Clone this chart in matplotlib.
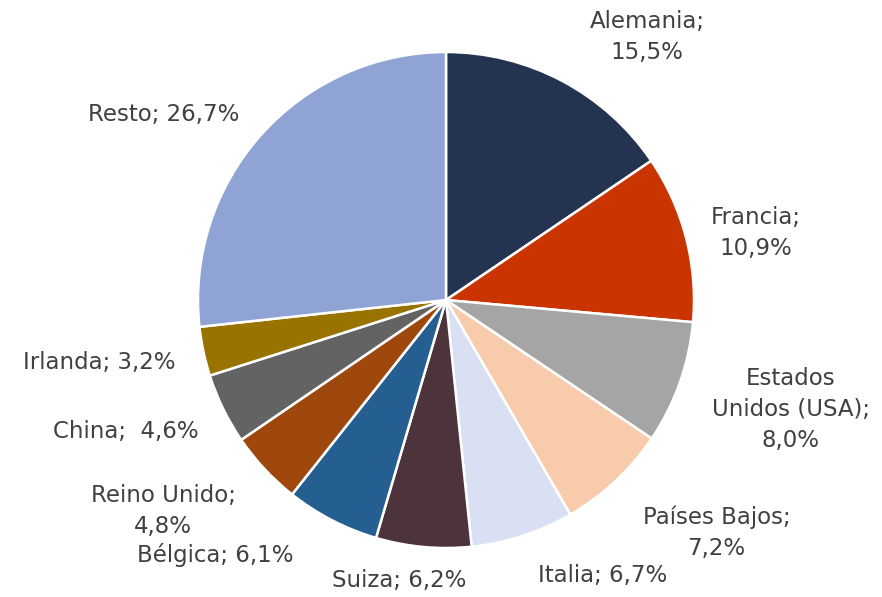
import matplotlib
matplotlib.use("Agg")
import matplotlib.pyplot as plt

countries = ["Alemania", "Francia", "Estados\nUnidos (USA)", "Países Bajos", "Italia", "Suiza",
             "Bélgica", "Reino Unido", "China", "Irlanda", "Resto"]
shares = [15.5, 10.9, 8.0, 7.2, 6.7, 6.2, 6.1, 4.8, 4.6, 3.2, 26.7]
label_texts = ["Alemania;\n15,5%", "Francia;\n10,9%", "Estados\nUnidos (USA);\n8,0%",
               "Países Bajos;\n7,2%", "Italia; 6,7%", "Suiza; 6,2%", "Bélgica; 6,1%",
               "Reino Unido;\n4,8%", "China;  4,6%", "Irlanda; 3,2%", "Resto; 26,7%"]
colors = ["#243350", "#C93400", "#A5A5A5", "#F8CBAD", "#D9E0F3", "#4D333C",
          "#255E91", "#9E480E", "#636363", "#997300", "#8FA4D4"]
# label positions (layout, in pie-radius units)
label_pos = [(0.81, 1.06), (1.25, 0.27), (1.39, -0.44), (1.09, -0.94), (0.63, -1.11),
             (-0.19, -1.13), (-0.93, -1.03), (-1.14, -0.85), (-1.29, -0.53),
             (-1.40, -0.25), (-1.14, 0.75)]

fig = plt.figure(figsize=(8.82, 5.97), dpi=100)
ax = fig.add_axes([0, 0, 1, 1])
ax.pie(shares, colors=colors, startangle=90, counterclock=False, radius=1.0,
       wedgeprops=dict(edgecolor="white", linewidth=1.8))
for txt, (x, y) in zip(label_texts, label_pos):
    ax.text(x, y, txt, ha="center", va="center", fontsize=16.5, color="#404040",
            family="DejaVu Sans", linespacing=1.45)
ax.set_xlim(-446 / 248, (882 - 446) / 248)
ax.set_ylim((300 - 597) / 248, 300 / 248)
ax.set_aspect("equal")
ax.axis("off")
fig.savefig("out.png", dpi=100)
